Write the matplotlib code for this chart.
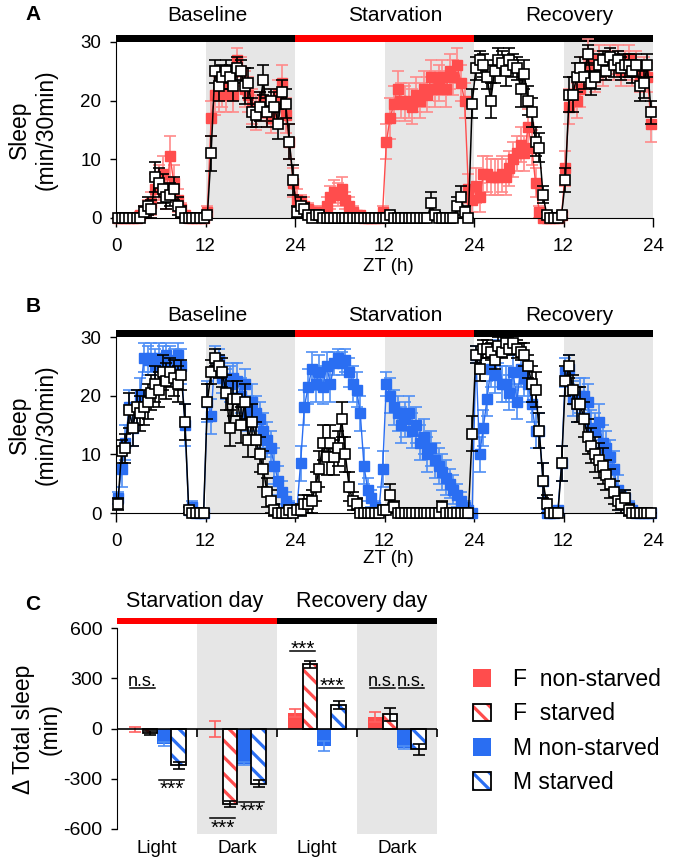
import numpy as np
import matplotlib
matplotlib.use("Agg")
from matplotlib import pyplot as plt
from matplotlib.patches import Patch, Rectangle
from matplotlib.legend_handler import HandlerTuple
from matplotlib.transforms import blended_transform_factory

plt.rcParams['font.family'] = ['Liberation Sans', 'DejaVu Sans']
plt.rcParams['axes.unicode_minus'] = False
plt.rcParams['hatch.linewidth'] = 2.3

# sleep per 30 min bin, 3 days x 48 bins (baseline, starvation, recovery)
# panel A: females
a_ns = [
    0, 0, 0, 0, 0, 0,
    0.5, 1, 1.5, 2.5, 5, 6,
    7.5, 4, 10.5, 6, 3, 1.5,
    0.5, 0, 0, 0, 0, 0,
    1, 17, 21, 21, 22, 21,
    23, 21, 27, 25, 22, 21,
    19, 18, 19, 20, 18, 17,
    19, 21, 23, 17.5, 13, 6,
    3, 2.5, 2, 1.5, 1, 1,
    0.5, 1, 2, 3.5, 4.5, 4,
    5, 3, 2, 1, 0.5, 0.5,
    0, 0, 0, 0, 0, 1,
    13, 17, 19.5, 22, 20, 19.5,
    20, 19, 21, 20, 22, 21,
    24, 22, 23, 24, 22, 25,
    24, 26, 23, 20, 5, 3,
    5.5, 3.5, 7.5, 7.5, 7, 7,
    7, 7.5, 7, 8.5, 10, 11,
    12.5, 11, 15.5, 12, 6, 1,
    0, 0, 0, 0, 0, 0.5,
    8.5, 19, 21, 20, 22, 25,
    28, 26, 24, 27, 25, 26,
    27, 26, 27, 25, 26, 27,
    25, 26, 24, 25, 24, 16,
]
a_ns_err = [
    0, 0, 0, 0, 0, 0,
    0.5, 1, 1.5, 2, 2.5, 3,
    3, 2.5, 3.5, 3, 2, 1,
    0.5, 0, 0, 0, 0, 0,
    1, 3, 3.5, 3, 3, 3,
    2.5, 3, 2, 2.5, 3, 3,
    3, 3, 2.5, 3, 2.5, 2.5,
    3, 2.5, 3, 3, 3, 2.5,
    2, 1.5, 1.5, 1, 1, 1,
    0.5, 1, 1.5, 2, 2, 2,
    2, 1.5, 1.5, 1, 0.5, 0.5,
    0, 0, 0, 0, 0, 1,
    3, 3.5, 3, 3, 3, 3,
    3, 3, 3, 3, 3, 3,
    3, 3, 3, 3, 3, 3,
    3, 3, 3, 3, 2.5, 2,
    3, 2.5, 3, 3, 3, 3,
    3, 3, 3, 3, 3, 3,
    3, 3, 3, 3, 2.5, 1,
    0, 0, 0, 0, 0, 0.5,
    3, 3, 3, 3, 3, 2.5,
    2.5, 2.5, 2.5, 2.5, 2.5, 2.5,
    2.5, 2.5, 2.5, 2.5, 2.5, 2.5,
    2.5, 2.5, 2.5, 2.5, 2.5, 3,
]
a_st = [
    0, 0, 0, 0, 0, 0,
    0, 1, 2, 1.5, 7, 6,
    5, 3.5, 4, 5, 2, 1,
    0, 0, 0, 0, 0, 0,
    0.5, 11, 25, 22.5, 24, 25,
    24, 22.5, 25.5, 25, 22.5, 23,
    18, 17.5, 19, 23.5, 18, 20,
    19, 16, 21.5, 19.5, 13, 6.5,
    1, 2, 1.5, 0.5, 0, 0.5,
    0.5, 0, 0, 0, 0, 0,
    0, 0, 0, 0, 0, 0,
    0, 0, 0, 0, 0, 0,
    0, 0.5, 0, 0, 0, 0,
    0, 0, 0, 0, 0, 0,
    2.5, 0.5, 0, 0, 0, 0,
    0, 2, 3.5, 1, 0, 19.5,
    25.5, 27, 26, 24, 20, 25,
    27, 26.5, 25, 27, 26, 25.5,
    22, 24.5, 20, 18, 13, 12,
    4, 0.5, 0, 0, 0, 0.5,
    6.5, 21, 21, 24, 25.5, 24,
    28, 23, 24, 26, 27, 25,
    27.5, 26, 27, 25.5, 26, 26,
    25, 26, 22.5, 23, 26, 18,
]
a_st_err = [
    0, 0, 0, 0, 0, 0,
    0, 1, 1.5, 1.5, 2.5, 2.5,
    2.5, 2, 2, 2, 1.5, 1,
    0, 0, 0, 0, 0, 0,
    0.5, 3, 2, 2.5, 2, 2,
    2, 2.5, 2, 2, 3, 2.5,
    2.5, 2, 2.5, 2.5, 2.5, 2,
    2.5, 2.5, 2, 2.5, 3, 2.5,
    1, 1.5, 1, 0.5, 0, 0.5,
    0.5, 0, 0, 0, 0, 0,
    0, 0, 0, 0, 0, 0,
    0, 0, 0, 0, 0, 0,
    0, 0.5, 0, 0, 0, 0,
    0, 0, 0, 0, 0, 0,
    2, 0.5, 0, 0, 0, 0,
    0, 1.5, 2, 1, 0, 2.5,
    2, 1.5, 2, 2, 3, 2,
    2, 2, 2.5, 2, 2, 2,
    3, 2.5, 2.5, 2.5, 2.5, 2.5,
    1.5, 0.5, 0, 0, 0, 0.5,
    2, 3, 3, 2.5, 2, 2,
    1.5, 2, 2, 2, 1.5, 1.5,
    1.5, 2, 1.5, 2, 2, 2,
    2, 2, 2.5, 2.5, 2, 2,
]

# panel B: males
b_ns = [
    2.5, 7.5, 12, 18, 14.5, 18,
    20, 26.5, 26, 26.5, 25, 26.5,
    25.5, 27, 26, 25, 27, 25,
    15, 0.5, 1, 0, 0, 0,
    19, 16.5, 26.5, 26, 23, 22,
    22, 23, 22.5, 20, 22, 17,
    19, 17, 16, 14, 12.5, 11,
    8, 5.5, 3.5, 2, 1, 0.5,
    0.5, 8.5, 18, 21.5, 24.5, 22,
    24, 21.5, 25, 22, 25.5, 26.5,
    25.5, 26, 24, 22, 21, 17,
    8, 4, 2.5, 1, 0.5, 7.5,
    22, 20, 18, 17, 15, 16,
    17, 14, 15, 12, 13, 10,
    11, 9, 8, 7, 6, 5,
    4, 3, 2, 1, 0.5, 0,
    27, 10, 14.5, 19.5, 24.5, 23.5,
    27.5, 22, 22, 20.5, 24, 19,
    24.5, 23, 22, 18.5, 14, 14,
    5.5, 0, 0, 0, 0.5, 8.5,
    24, 24.5, 19.5, 18.5, 20, 20,
    19, 14.5, 14, 15.5, 12, 11,
    9.5, 7.5, 4, 2, 2.5, 1,
    0.5, 0, 0, 0, 0, 0,
]
b_ns_err = [
    1, 3, 3, 3, 3, 3,
    3, 2.5, 2.5, 2.5, 3, 2.5,
    3, 2, 2.5, 3, 2, 3,
    3.5, 0.5, 1, 0, 0, 0,
    3.5, 3, 2, 2, 2.5, 2.5,
    3, 2.5, 3, 3, 2.5, 3,
    3, 3, 3, 3, 3, 3,
    3, 2.5, 2, 1.5, 1, 0.5,
    0.5, 3, 3, 3, 3, 3,
    3, 3, 2.5, 3, 2, 1.5,
    2, 2, 2.5, 3, 3, 3,
    3, 2, 1.5, 1, 0.5, 3,
    2, 3, 3, 3, 3, 3,
    3, 3, 3, 3, 3, 3,
    3, 3, 3, 3, 3, 2.5,
    2.5, 2, 1.5, 1, 0.5, 0,
    1.5, 3, 3, 3, 3, 3,
    2, 3, 3, 3, 3, 3,
    3, 3, 3, 3, 3, 3,
    3, 0, 0.5, 0, 0.5, 3,
    2.5, 2.5, 3, 3, 3, 3,
    3, 3, 3, 3, 3, 3,
    3, 3, 2.5, 1.5, 1.5, 1,
    0.5, 0, 0, 0, 0, 0,
]
b_st = [
    1.5, 10.5, 11, 17.5, 14.5, 18,
    17, 18, 19, 20.5, 22, 21,
    24, 22.5, 24, 23, 22, 23.5,
    15.5, 0.5, 0, 0, 0, 0,
    19, 24, 26.5, 25, 24, 20.5,
    14.5, 19.5, 19.5, 15, 19, 12.5,
    15.5, 12.5, 10, 7.5, 3.5, 2,
    0.5, 0, 0, 0, 0.5, 0,
    0.5, 0.5, 1.5, 1.5, 2, 4.5,
    7.5, 12, 9.5, 12, 9.5, 11,
    16, 10, 4.5, 2, 1.5, 0,
    0, 0, 0, 0, 0, 0.5,
    0.5, 3, 1, 0, 0, 0,
    0, 0, 0, 0, 0, 0,
    0, 0, 0, 1, 0, 0,
    0, 0, 0, 0, 0, 13.5,
    27, 24.5, 28, 28, 27.5, 26,
    28.5, 27.5, 29, 28, 29, 28,
    27.5, 27, 25, 22, 21, 14,
    5.5, 1.5, 0, 0, 0, 8.5,
    22.5, 25, 21, 18.5, 18.5, 16,
    13, 11.5, 10, 9, 8, 6.5,
    5, 3.5, 2, 1.5, 2.5, 0.5,
    0, 0, 0, 0, 0, 0,
]
b_st_err = [
    1, 2, 2.5, 3, 3, 3,
    3, 3, 3, 3, 3, 3,
    3, 3, 2.5, 3, 3, 2.5,
    3, 0.5, 0, 0, 0, 0,
    3, 2, 1.5, 2, 2.5, 3,
    3, 3, 3, 3, 3, 3,
    3, 3, 3, 3, 2.5, 2,
    1, 0, 0, 0, 0.5, 0,
    0.5, 1, 1.5, 1.5, 2, 2.5,
    3, 3, 3, 3, 3, 3,
    3, 3, 2.5, 1.5, 1, 0,
    0, 0, 0, 0, 0, 0.5,
    0.5, 2, 1, 0, 0, 0,
    0, 0, 0, 0, 0, 0,
    0, 0, 0, 1, 0, 0,
    0, 0, 0, 0, 0, 3,
    1.5, 2, 1.5, 1.5, 1.5, 1.5,
    1.5, 1, 1, 1, 1.5, 1.5,
    1.5, 2, 2, 3, 3, 3,
    3, 1.5, 0, 0, 0, 3,
    2.5, 2, 2.5, 3, 3, 3,
    3, 3, 3, 3, 3, 2.5,
    2.5, 2, 1.5, 1.5, 1.5, 1,
    0, 0, 0, 0, 0, 0,
]

zt = np.arange(len(a_ns)) * 0.5 + 0.25
zt_ticks = [0, 12, 24, 36, 48, 60, 72]
zt_labels = ['0', '12', '24', '12', '24', '12', '24']
phases = ['Baseline', 'Starvation', 'Recovery']

# panel C: change in total sleep (min)
groups = ['Light', 'Dark', 'Light', 'Dark']
f_ns = [-3, 0, 95, 70]
f_ns_err = [15, 48, 25, 28]
f_st = [-28, -450, 385, 85]
f_st_err = [12, 20, 20, 38]
m_ns = [-90, -210, -105, -115]
m_ns_err = [12, 8, 30, 8]
m_st = [-220, -330, 140, -125]
m_st_err = [20, 22, 25, 35]
# (pair start, pair end, line y, label)
sig = [(-0.36, 0.0, 245, 'n.s.'), (0.0, 0.36, -305, '***'),
       (0.64, 1.0, -537, '***'), (1.0, 1.36, -436, '***'),
       (1.64, 2.0, 466, '***'), (2.0, 2.36, 245, '***'),
       (2.64, 3.0, 245, 'n.s.'), (3.0, 3.36, 245, 'n.s.')]

RED = '#ff4d4d'
RED_E = '#ff8a8a'
BLUE = '#2a6ef2'
BLUE_E = '#4f8ff5'
GRAY = '#e6e6e6'
HATCH = '\\\\'


def sleep_panel(ax, ctrl, ctrl_err, stv, stv_err, col, ecol, title_y):
    ax.set_xlim(0, 72)
    ax.set_ylim(0, 30)
    for s in (12, 36, 60):
        ax.axvspan(s, s + 12, color=GRAY, lw=0, zorder=0)
    c1 = ax.errorbar(zt, ctrl, yerr=ctrl_err, fmt='s-', color=col, ecolor=ecol,
                     ms=7, mfc=col, mec=col, lw=1, elinewidth=1.2, capsize=4,
                     capthick=1.2, zorder=2)
    c2 = ax.errorbar(zt, stv, yerr=stv_err, fmt='s-', color='black', ecolor='black',
                     ms=7, mfc='white', mec='black', mew=1.2, lw=1.1, elinewidth=1.2,
                     capsize=4, capthick=1.2, zorder=3)
    for c in (c1, c2):
        for art in c.get_children():
            art.set_clip_on(False)
    for sp in ('top', 'right'):
        ax.spines[sp].set_visible(False)
    ax.spines['left'].set_bounds(0, 30)
    ax.set_xticks(zt_ticks)
    ax.set_xticklabels(zt_labels)
    ax.set_yticks([0, 10, 20, 30])
    ax.tick_params(axis='x', length=6.5, width=1, pad=8, labelsize=13.5)
    ax.tick_params(axis='y', length=4.5, width=1, pad=6, labelsize=13.5)
    # phase bar on top
    for i, c in enumerate(['black', '#ff0000', 'black']):
        ax.add_patch(Rectangle((i / 3, 1.0), 1 / 3, 0.04, transform=ax.transAxes,
                               color=c, lw=0, clip_on=False))
    tr = blended_transform_factory(ax.transData, ax.transAxes)
    for xc, name in zip((12.3, 37.5, 60.8), phases):
        ax.text(xc, title_y, name, transform=tr, ha='center', va='center', fontsize=15)
    ax.set_ylabel('Sleep\n(min/30min)', fontsize=16.5)
    ax.yaxis.set_label_coords(-0.108, 0.5)


fig = plt.figure(figsize=(6.81, 8.6), dpi=100)
axA = fig.add_axes([116 / 681, 1 - 218 / 860, 537 / 681, 176 / 860])
axB = fig.add_axes([116 / 681, 1 - 513 / 860, 537 / 681, 176 / 860])
axC = fig.add_axes([117 / 681, 1 - 834 / 860, 320 / 681, 210 / 860])

sleep_panel(axA, a_ns, a_ns_err, a_st, a_st_err, RED, RED_E, 1.153)
sleep_panel(axB, b_ns, b_ns_err, b_st, b_st_err, BLUE, BLUE_E, 1.125)
axA.text(36.5, -0.278, 'ZT (h)', transform=blended_transform_factory(axA.transData, axA.transAxes),
         ha='center', va='center', fontsize=13.5)
axB.text(36.5, -0.26, 'ZT (h)', transform=blended_transform_factory(axB.transData, axB.transAxes),
         ha='center', va='center', fontsize=13.5)

# panel C
ax = axC
ax.set_xlim(-0.5, 3.5)
ax.set_ylim(-630, 625)
ax.axvspan(0.5, 1.5, color=GRAY, lw=0, zorder=0)
ax.axvspan(2.5, 3.5, color=GRAY, lw=0, zorder=0)
pos = np.arange(len(groups))
w = 0.18
offs = [-0.27, -0.09, 0.09, 0.27]
ax.bar(pos + offs[0], f_ns, w, color=RED, lw=0, zorder=2)
ax.bar(pos + offs[1], f_st, w, facecolor='white', edgecolor=RED, hatch=HATCH, lw=0, zorder=2)
ax.bar(pos + offs[1], f_st, w, fill=False, edgecolor='black', lw=1.3, zorder=3)
ax.bar(pos + offs[2], m_ns, w, color=BLUE, lw=0, zorder=2)
ax.bar(pos + offs[3], m_st, w, facecolor='white', edgecolor=BLUE, hatch=HATCH, lw=0, zorder=2)
ax.bar(pos + offs[3], m_st, w, fill=False, edgecolor='black', lw=1.3, zorder=3)
ax.errorbar(pos + offs[0], f_ns, yerr=f_ns_err, fmt='none', ecolor='#ff6060',
            elinewidth=1.2, capsize=4, capthick=1.2, zorder=4)
ax.errorbar(pos + offs[1], f_st, yerr=f_st_err, fmt='none', ecolor='black',
            elinewidth=1.2, capsize=4, capthick=1.2, zorder=4)
ax.errorbar(pos + offs[2], m_ns, yerr=m_ns_err, fmt='none', ecolor=BLUE_E,
            elinewidth=1.2, capsize=4, capthick=1.2, zorder=4)
ax.errorbar(pos + offs[3], m_st, yerr=m_st_err, fmt='none', ecolor='black',
            elinewidth=1.2, capsize=4, capthick=1.2, zorder=4)
ax.axhline(0, color='black', lw=1.2, zorder=5)
ax.vlines([0.5, 1.5, 2.5, 3.5], -50, 0, color='black', lw=1.2, zorder=5, clip_on=False)
for sp in ('top', 'right', 'bottom'):
    ax.spines[sp].set_visible(False)
ax.spines['left'].set_bounds(-600, 600)
ax.set_yticks([-600, -300, 0, 300, 600])
ax.set_xticks(pos)
ax.set_xticklabels(groups)
ax.tick_params(axis='x', length=0, pad=4, labelsize=13.5)
ax.tick_params(axis='y', length=4.5, width=1, pad=6, labelsize=14)
ax.set_ylabel('\u0394 Total sleep\n(min)', fontsize=16.5)
ax.yaxis.set_label_coords(-0.172, 0.5)
for i, c in enumerate(['#ff0000', 'black']):
    ax.add_patch(Rectangle((i / 2, 1.0), 0.5, 0.028, transform=ax.transAxes,
                           color=c, lw=0, clip_on=False))
trC = blended_transform_factory(ax.transData, ax.transAxes)
ax.text(0.475, 1.105, 'Starvation day', transform=trC, ha='center', va='center', fontsize=15.5)
ax.text(2.56, 1.105, 'Recovery day', transform=trC, ha='center', va='center', fontsize=15.5)
for x0, x1, ly, lab in sig:
    ax.plot([x0 + 0.02, x1 - 0.02], [ly, ly], color='black', lw=1.1, zorder=6)
    xm = (x0 + x1) / 2
    if lab == 'n.s.':
        ax.text(xm, ly + 12, lab, ha='center', va='baseline', fontsize=13)
    elif ly > 0:
        ax.text(xm, ly - 24, lab, ha='center', va='baseline', fontsize=15)
    else:
        ax.text(xm, ly - 93, lab, ha='center', va='baseline', fontsize=15)

# legend
handles = [Patch(facecolor=RED, lw=0),
           (Patch(facecolor='white', edgecolor=RED, hatch=HATCH, lw=0),
            Patch(fill=False, edgecolor='black', lw=1.3)),
           Patch(facecolor=BLUE, lw=0),
           (Patch(facecolor='white', edgecolor=BLUE, hatch=HATCH, lw=0),
            Patch(fill=False, edgecolor='black', lw=1.3))]
labels = ['F  non-starved', 'F  starved', 'M non-starved', 'M starved']
fig.legend(handles, labels, loc='center left', bbox_to_anchor=(473 / 681, 1 - 731 / 860),
           frameon=False, fontsize=16.5, handlelength=0.8, handleheight=0.8,
           handletextpad=0.95, labelspacing=0.5, borderaxespad=0, borderpad=0,
           handler_map={tuple: HandlerTuple(ndivide=1, pad=0)})

for lab, yy in (('A', 15), ('B', 307), ('C', 605)):
    fig.text(33 / 681, 1 - yy / 860, lab, ha='center', va='center', fontsize=15, fontweight='bold')

fig.savefig('out.png', dpi=100)
